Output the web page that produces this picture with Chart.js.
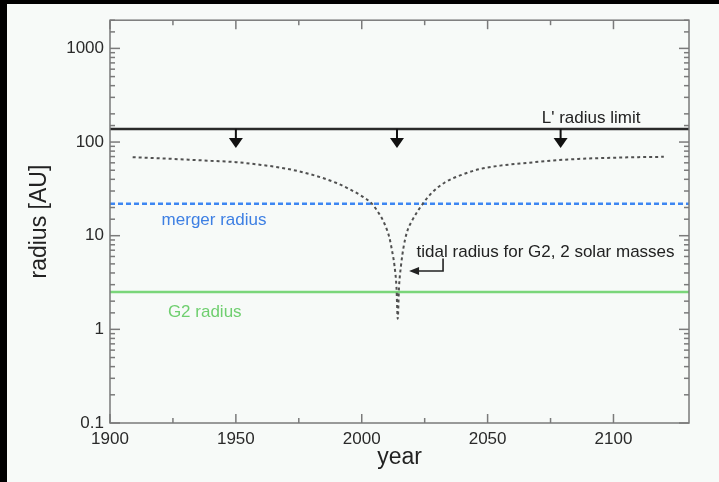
<!DOCTYPE html>
<html>
<head>
<meta charset="utf-8">
<script src="https://cdn.jsdelivr.net/npm/chart.js@4.4.1/dist/chart.umd.min.js"></script>
<style>
  html, body { margin: 0; padding: 0; background: #000; }
  body { width: 719px; height: 482px; overflow: hidden; position: relative; }
  #panel { position: absolute; left: 7px; top: 4px; width: 712px; height: 478px; background: #f7faf8; }
  canvas { display: block; }
</style>
</head>
<body>
<div id="panel"><canvas id="chart" width="712" height="478"></canvas></div>
<script>
// tidal radius of G2 (2 solar masses) along the orbit, AU
const tidalYears = [1909, 1920, 1930, 1940, 1950, 1960, 1970, 1980, 1990, 1995,
                    2000, 2004, 2007, 2009, 2011, 2012, 2013, 2013.8, 2014.3,
                    2014.8, 2015.6, 2016.6, 2018, 2020, 2024.3, 2028, 2033, 2040,
                    2047, 2055, 2066, 2076, 2086, 2100, 2110, 2120];
const tidalRadius = [69, 67, 65, 63, 61, 57, 52, 45, 36.5, 31.5,
                     26.5, 22, 17, 13.5, 9.5, 7, 4.8, 2.8, 1.3,
                     2.8, 4.8, 7.5, 11, 14.5, 22, 29, 37, 45,
                     51.5, 56, 60, 63.5, 66, 68, 69, 69.5];

// constant radii, AU
const limitRadius = 138;   // L' radius limit
const mergerRadius = 22;
const g2Radius = 2.5;

const arrowYears = [1950, 2014, 2079];

const xTickLabels = [1900, 1950, 2000, 2050, 2100];
const yTickLabels = [0.1, 1, 10, 100, 1000];

const FONT = '"Liberation Sans", Arial, Helvetica, sans-serif';
const xRange = [1900, 2130];

function flat(r) {
  return [{ x: xRange[0], y: r }, { x: xRange[1], y: r }];
}

const isDecade = v => {
  const lg = Math.log10(v);
  return Math.abs(lg - Math.round(lg)) < 1e-6;
};

// inward ticks on all four sides plus the box
const frameTicks = {
  id: 'frameTicks',
  afterDraw(chart) {
    const { ctx, chartArea: a, scales: { x, y } } = chart;
    ctx.save();
    ctx.strokeStyle = '#7a7a7a';
    ctx.lineWidth = 1.5;
    const seg = (x1, y1, x2, y2) => {
      ctx.beginPath(); ctx.moveTo(x1, y1); ctx.lineTo(x2, y2); ctx.stroke();
    };
    x.ticks.forEach(t => {
      if (t.value % 25 !== 0) return;
      const px = x.getPixelForValue(t.value);
      const len = t.value % 50 === 0 ? 9 : 5;
      seg(px, a.bottom, px, a.bottom - len);
      seg(px, a.top, px, a.top + len);
    });
    y.ticks.forEach(t => {
      const py = y.getPixelForValue(t.value);
      const len = isDecade(t.value) ? 10 : 5;
      seg(a.left, py, a.left + len, py);
      seg(a.right, py, a.right - len, py);
    });
    ctx.strokeRect(a.left, a.top, a.right - a.left, a.bottom - a.top);
    ctx.restore();
  }
};

// text labels and arrows, anchored in data coordinates
const notes = [
  { text: "L' radius limit", year: 2071.5, r: 180, color: '#222' },
  { text: 'merger radius', year: 1920.5, r: 14.5, color: '#3d7fe3' },
  { text: 'G2 radius', year: 1923, r: 1.53, color: '#6fcf6f' },
  { text: 'tidal radius for G2, 2 solar masses', year: 2021.8, r: 6.6, color: '#222' }
];

const annotations = {
  id: 'annotations',
  afterDatasetsDraw(chart) {
    const { ctx, scales: { x, y } } = chart;
    ctx.save();
    ctx.font = '17px ' + FONT;
    ctx.textBaseline = 'middle';
    ctx.textAlign = 'left';
    notes.forEach(n => {
      ctx.fillStyle = n.color;
      ctx.fillText(n.text, x.getPixelForValue(n.year), y.getPixelForValue(n.r));
    });

    // downward arrows hanging from the L' limit
    ctx.strokeStyle = '#111';
    ctx.fillStyle = '#111';
    ctx.lineWidth = 2;
    const py0 = y.getPixelForValue(limitRadius);
    arrowYears.forEach(yr => {
      const px = x.getPixelForValue(yr);
      ctx.beginPath(); ctx.moveTo(px, py0); ctx.lineTo(px, py0 + 10); ctx.stroke();
      ctx.beginPath();
      ctx.moveTo(px - 7, py0 + 9);
      ctx.lineTo(px + 7, py0 + 9);
      ctx.lineTo(px, py0 + 19);
      ctx.closePath();
      ctx.fill();
    });

    // bent pointer from the tidal label to the curve
    const sx = x.getPixelForValue(2032.3);
    const sy0 = y.getPixelForValue(5.7);
    const sy1 = y.getPixelForValue(4.2);
    const tip = x.getPixelForValue(2018.8);
    ctx.lineWidth = 1.6;
    ctx.strokeStyle = '#222';
    ctx.fillStyle = '#222';
    ctx.beginPath();
    ctx.moveTo(sx, sy0); ctx.lineTo(sx, sy1); ctx.lineTo(tip + 9, sy1);
    ctx.stroke();
    ctx.beginPath();
    ctx.moveTo(tip, sy1); ctx.lineTo(tip + 10, sy1 - 4); ctx.lineTo(tip + 10, sy1 + 4);
    ctx.closePath();
    ctx.fill();
    ctx.restore();
  }
};

const ctx = document.getElementById('chart').getContext('2d');
new Chart(ctx, {
  type: 'line',
  data: {
    datasets: [
      {
        label: 'tidal radius',
        data: tidalYears.map((yr, i) => ({ x: yr, y: tidalRadius[i] })),
        borderColor: '#505050',
        borderWidth: 2,
        borderDash: [3, 3],
        pointRadius: 0,
        cubicInterpolationMode: 'monotone',
        fill: false
      },
      {
        label: "L' radius limit",
        data: flat(limitRadius),
        borderColor: '#2a2a2a',
        borderWidth: 2.5,
        pointRadius: 0
      },
      {
        label: 'merger radius',
        data: flat(mergerRadius),
        borderColor: '#3d86f2',
        borderWidth: 2.5,
        borderDash: [5, 3],
        pointRadius: 0
      },
      {
        label: 'G2 radius',
        data: flat(g2Radius),
        borderColor: '#7ad67a',
        borderWidth: 2.5,
        pointRadius: 0
      }
    ]
  },
  options: {
    responsive: false,
    animation: false,
    layout: { padding: { left: 0, right: 30, top: 15, bottom: 0 } },
    plugins: {
      legend: { display: false },
      tooltip: { enabled: false }
    },
    scales: {
      x: {
        type: 'linear',
        min: xRange[0],
        max: xRange[1],
        afterFit: s => { s.height = 59; },
        grid: { display: false, drawTicks: false },
        border: { display: false },
        ticks: {
          stepSize: 25,
          autoSkip: false,
          maxRotation: 0,
          padding: 6,
          color: '#2a2a2a',
          font: { family: FONT, size: 17 },
          callback: v => xTickLabels.includes(v) ? String(v) : ''
        },
        title: {
          display: true,
          text: 'year',
          color: '#222',
          font: { family: FONT, size: 23 },
          padding: { top: 0, bottom: 11 }
        }
      },
      y: {
        type: 'logarithmic',
        min: 0.1,
        max: 2000,
        afterFit: s => { s.width = 103; },
        grid: { display: false, drawTicks: false },
        border: { display: false },
        ticks: {
          autoSkip: false,
          padding: 6,
          color: '#2a2a2a',
          font: { family: FONT, size: 17 },
          callback: v => {
            const hit = yTickLabels.find(t => Math.abs(t - v) < 1e-9);
            return hit === undefined ? '' : String(hit);
          }
        },
        title: {
          display: true,
          text: 'radius [AU]',
          color: '#222',
          font: { family: FONT, size: 23 },
          padding: { top: 19, bottom: 0 }
        }
      }
    }
  },
  plugins: [frameTicks, annotations]
});
</script>
</body>
</html>
